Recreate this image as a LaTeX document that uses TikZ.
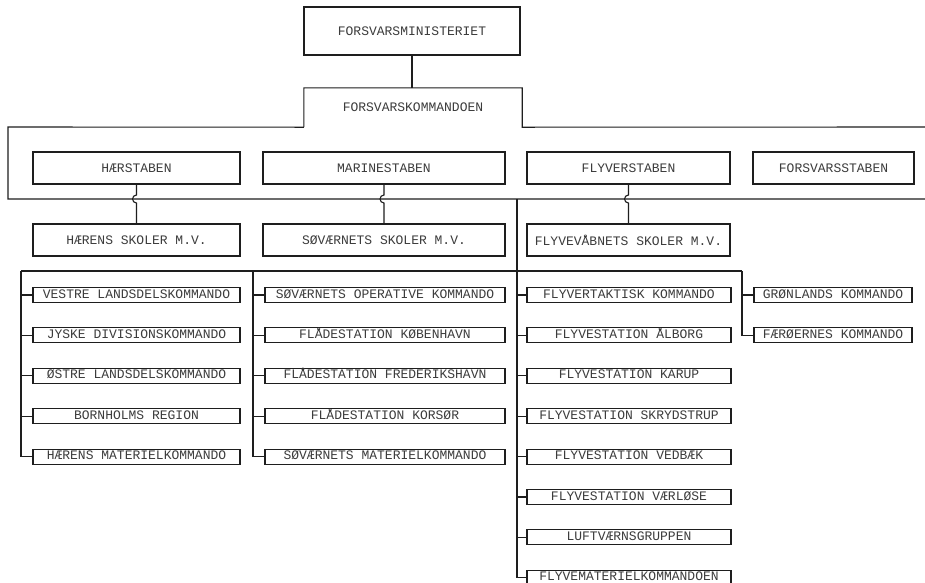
\documentclass[tikz,border=0pt]{standalone}
\usepackage{fontspec}
\newfontfamily\typefont{Liberation Mono}
\usetikzlibrary{positioning,calc}
\definecolor{ink}{HTML}{1E1E1E}
\definecolor{typed}{HTML}{3C3C3C}

\begin{document}
\begin{tikzpicture}[x=1pt, y=1pt, node distance=24.3pt,
  font=\typefont\fontsize{13}{15}\selectfont, text=typed,
  staffbox/.style={draw=ink, line width=1.1pt, minimum height=32pt, inner sep=0pt},
  unitbox/.style={draw=ink, line width=1.1pt, minimum height=15pt, inner sep=0pt, text height=8pt, text depth=2pt},
  hcol/.style={unitbox, minimum width=207pt},
  scol/.style={unitbox, minimum width=240pt},
  fcol/.style={unitbox, minimum width=204pt},
  ocol/.style={unitbox, minimum width=158pt},
  link/.style={draw=ink, line width=1.1pt}]
\path[fill=white, use as bounding box] (0,0) rectangle (925,-582);

% ministry and defence command
\node[staffbox, minimum width=216pt, minimum height=48pt] (fm) at (412,-31) {FORSVARSMINISTERIET};
\node[minimum width=218pt, minimum height=39pt, inner sep=0pt] (fk) at (413,-107.5) {FORSVARSKOMMANDOEN};
\coordinate (kr) at (925,-127);
\coordinate (kl) at (8,-127);
\coordinate (kb) at (925,-199);
\coordinate (tr) at (517,-199);
\draw[link] (fm.south) -- (fm.south |- fk.north);
\draw[link] (fk.south west) |- (fk.north east) -- (fk.south east) -- (kr);
\draw[link] (fk.south west) -- (kl) |- (kb);

% staffs
\node[staffbox, minimum width=207pt] (hs) at (136.5,-168) {HÆRSTABEN};
\node[staffbox, minimum width=242pt] (ms) at (384,-168) {MARINESTABEN};
\node[staffbox, minimum width=203pt] (fs) at (628.5,-168) {FLYVERSTABEN};
\node[staffbox, minimum width=161pt] (fos) at (833.5,-168) {FORSVARSSTABEN};

% schools
\node[staffbox, minimum width=207pt] (hsk) at (136.5,-240) {HÆRENS SKOLER M.V.};
\node[staffbox, minimum width=242pt] (ssk) at (384,-240) {SØVÆRNETS SKOLER M.V.};
\node[staffbox, minimum width=203pt] (fsk) at (628.5,-240) {FLYVEVÅBNETS SKOLER M.V.};
\draw[link] (hs.south) -- ($(hs.south |- tr)+(0,4)$) arc[start angle=90, end angle=270, radius=4pt] -- (hsk.north);
\draw[link] (ms.south) -- ($(ms.south |- tr)+(0,4)$) arc[start angle=90, end angle=270, radius=4pt] -- (ssk.north);
\draw[link] (fs.south) -- ($(fs.south |- tr)+(0,4)$) arc[start angle=90, end angle=270, radius=4pt] -- (fsk.north);

% army column
\node[hcol] (vl) at (136.5,-295) {VESTRE LANDSDELSKOMMANDO};
\node[hcol, below=of vl] (jd) {JYSKE DIVISIONSKOMMANDO};
\node[hcol, below=of jd] (ol) {ØSTRE LANDSDELSKOMMANDO};
\node[hcol, below=of ol] (br) {BORNHOLMS REGION};
\node[hcol, below=of br] (hmk) {HÆRENS MATERIELKOMMANDO};

% navy column
\node[scol] (sok) at (385,-295) {SØVÆRNETS OPERATIVE KOMMANDO};
\node[scol, below=of sok] (fkh) {FLÅDESTATION KØBENHAVN};
\node[scol, below=of fkh] (ffh) {FLÅDESTATION FREDERIKSHAVN};
\node[scol, below=of ffh] (fks) {FLÅDESTATION KORSØR};
\node[scol, below=of fks] (smk) {SØVÆRNETS MATERIELKOMMANDO};

% air force column
\node[fcol] (ftk) at (629,-295) {FLYVERTAKTISK KOMMANDO};
\node[fcol, below=of ftk] (fal) {FLYVESTATION ÅLBORG};
\node[fcol, below=of fal] (fka) {FLYVESTATION KARUP};
\node[fcol, below=of fka] (fsd) {FLYVESTATION SKRYDSTRUP};
\node[fcol, below=of fsd] (fvb) {FLYVESTATION VEDBÆK};
\node[fcol, below=of fvb] (fvl) {FLYVESTATION VÆRLØSE};
\node[fcol, below=of fvl] (lvg) {LUFTVÆRNSGRUPPEN};
\node[fcol, below=of lvg] (fmk) {FLYVEMATERIELKOMMANDOEN};

% greenland and faroes
\node[ocol] (grk) at (833,-295) {GRØNLANDS KOMMANDO};
\node[ocol, below=of grk] (fak) {FÆRØERNES KOMMANDO};

% operational lines
\coordinate (d1) at (21,-271);
\coordinate (d2) at (253,-271);
\coordinate (d4) at (742,-271);
\draw[link] (d1) -- (d4);
\draw[link] (tr) |- (fmk.west);
\draw[link] (d1) |- (hmk.west);
\draw[link] (d2) |- (smk.west);
\draw[link] (d4) |- (fak.west);
\draw[link] (d1 |- vl.west) -- (vl.west);
\draw[link] (d1 |- jd.west) -- (jd.west);
\draw[link] (d1 |- ol.west) -- (ol.west);
\draw[link] (d1 |- br.west) -- (br.west);
\draw[link] (d2 |- sok.west) -- (sok.west);
\draw[link] (d2 |- fkh.west) -- (fkh.west);
\draw[link] (d2 |- ffh.west) -- (ffh.west);
\draw[link] (d2 |- fks.west) -- (fks.west);
\draw[link] (tr |- ftk.west) -- (ftk.west);
\draw[link] (tr |- fal.west) -- (fal.west);
\draw[link] (tr |- fka.west) -- (fka.west);
\draw[link] (tr |- fsd.west) -- (fsd.west);
\draw[link] (tr |- fvb.west) -- (fvb.west);
\draw[link] (tr |- fvl.west) -- (fvl.west);
\draw[link] (tr |- lvg.west) -- (lvg.west);
\draw[link] (d4 |- grk.west) -- (grk.west);
\end{tikzpicture}
\end{document}
